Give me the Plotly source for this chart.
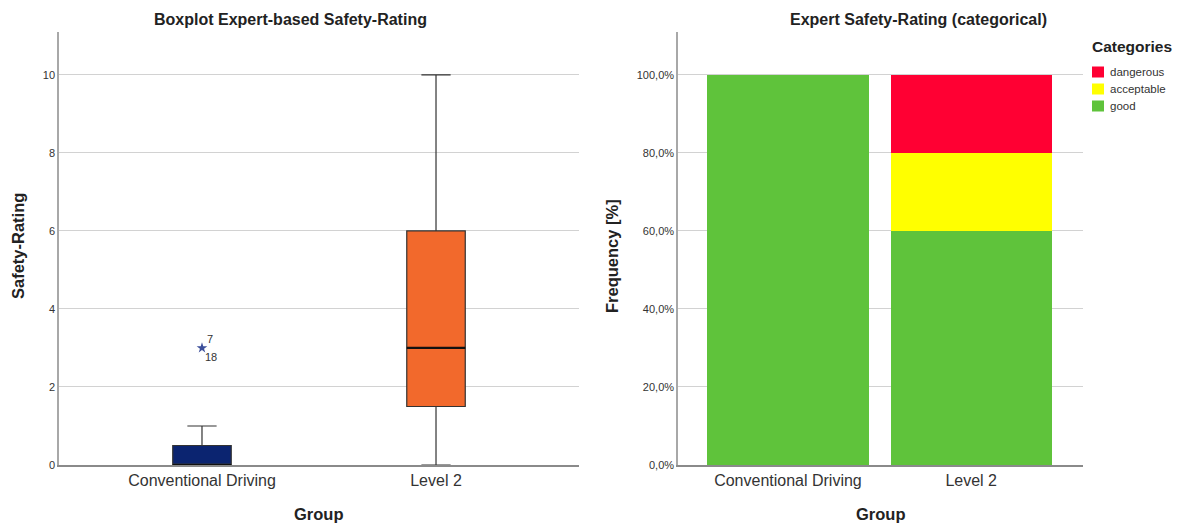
import plotly.graph_objects as go

# Boxplot summary statistics per group
groups = ["Conventional Driving", "Level 2"]
q1 = [0, 1.5]
median = [0, 3]
q3 = [0.5, 6]
lower_whisker = [0, 0]
upper_whisker = [1, 10]
box_colors = ["#0b2470", "#f2692c"]

# Extreme values (case ids shown next to the marker)
outlier_group = "Conventional Driving"
outlier_value = 3
outlier_ids = ["7", "18"]

# Categorical safety rating, percentage per group
categories = ["good", "acceptable", "dangerous"]
cat_pct = {
    "good": [100, 60],
    "acceptable": [0, 20],
    "dangerous": [0, 20],
}
cat_colors = {"good": "#5fc33b", "acceptable": "#ffff00", "dangerous": "#ff0033"}

pct_ticks = [0, 20, 40, 60, 80, 100]
pct_labels = ["0,0%", "20,0%", "40,0%", "60,0%", "80,0%", "100,0%"]
rating_ticks = [0, 2, 4, 6, 8, 10]

FONT = "Liberation Sans, Arial, sans-serif"
W, H = 1182, 524
BOX_W = 0.25


def px(x):
    return x / W


def py(y):
    return 1 - y / H


fig = go.Figure()

for i, g in enumerate(groups):
    fig.add_trace(go.Box(
        x=[g], q1=[q1[i]], median=[median[i]], q3=[q3[i]],
        lowerfence=[lower_whisker[i]], upperfence=[upper_whisker[i]],
        fillcolor=box_colors[i], line=dict(color="#333333", width=1.2),
        width=BOX_W, whiskerwidth=0.5, boxpoints=False,
        showlegend=False, xaxis="x", yaxis="y", hoverinfo="skip",
    ))
    # heavier median line drawn on top of the box
    fig.add_shape(type="line", xref="x", yref="y",
                  x0=i - BOX_W / 2, x1=i + BOX_W / 2, y0=median[i], y1=median[i],
                  line=dict(color="#111111", width=2.2))

fig.add_trace(go.Scatter(
    x=[outlier_group], y=[outlier_value], mode="markers",
    marker=dict(symbol="star", size=8, color="#3d4f9a"),
    showlegend=False, xaxis="x", yaxis="y", hoverinfo="skip",
))

for c in categories:
    fig.add_trace(go.Bar(
        x=groups, y=cat_pct[c], name=c,
        marker=dict(color=cat_colors[c], line=dict(width=0)),
        width=0.88, xaxis="x2", yaxis="y2", showlegend=False,
    ))

axis_common = dict(showgrid=False, showline=True, linecolor="#8a8a8a", linewidth=1.5,
                   tickfont=dict(size=16, color="#333333"), ticks="", type="category",
                   ticklabelstandoff=0)
yaxis_common = dict(showgrid=True, gridcolor="#d2d2d2", gridwidth=1.4, zeroline=False,
                    showline=True, linecolor="#a8a8a8", linewidth=1.5,
                    tickfont=dict(size=11, color="#333333"), ticks="",
                    domain=[py(465), py(32)])

fig.update_layout(
    width=W, height=H,
    margin=dict(l=0, r=0, t=0, b=0, autoexpand=False),
    paper_bgcolor="white", plot_bgcolor="white",
    font=dict(family=FONT, color="#222222"),
    barmode="stack", bargap=0, showlegend=False,
    xaxis=dict(domain=[px(59), px(579)], range=[-0.611, 1.611], anchor="y", **axis_common),
    yaxis=dict(range=[0, 11.1], tickvals=rating_ticks, anchor="x", **yaxis_common),
    xaxis2=dict(domain=[px(678), px(1083)], range=[-0.6, 1.61], anchor="y2", **axis_common),
    yaxis2=dict(range=[0, 111], tickvals=pct_ticks, ticktext=pct_labels, anchor="x2",
                **yaxis_common),
)

annotations = [
    dict(text="<b>Boxplot Expert-based Safety-Rating</b>", x=px(290), y=py(20),
         font=dict(size=16)),
    dict(text="<b>Expert Safety-Rating (categorical)</b>", x=px(918), y=py(20),
         font=dict(size=16)),
    dict(text="<b>Group</b>", x=px(319), y=py(514), font=dict(size=16.5)),
    dict(text="<b>Group</b>", x=px(881), y=py(514), font=dict(size=16.5)),
    dict(text="<b>Safety-Rating</b>", x=px(18), y=py(246), textangle=-90,
         font=dict(size=16.5)),
    dict(text="<b>Frequency [%]</b>", x=px(612), y=py(256), textangle=-90,
         font=dict(size=16.5)),
]
for a in annotations:
    a.update(xref="paper", yref="paper", showarrow=False, xanchor="center", yanchor="middle")

# legend: title plus one swatch per category, top entry = top of the stack
annotations.append(dict(text="<b>Categories</b>", x=px(1090), y=py(47), xref="paper",
                        yref="paper", showarrow=False, xanchor="left", yanchor="middle",
                        font=dict(size=15.5, color="#222222")))
for k, c in enumerate(reversed(categories)):
    yc = 72 + k * 17
    fig.add_shape(type="rect", xref="paper", yref="paper",
                  x0=px(1092), x1=px(1104), y0=py(yc + 5.5), y1=py(yc - 5.5),
                  fillcolor=cat_colors[c], line=dict(width=0))
    annotations.append(dict(text=c, x=px(1108), y=py(yc), xref="paper", yref="paper",
                            showarrow=False, xanchor="left", yanchor="middle",
                            font=dict(size=11.5, color="#333333")))

fig.update_layout(annotations=annotations)

# case ids beside the extreme value
fig.add_annotation(x=outlier_group, y=outlier_value, xref="x", yref="y", text=outlier_ids[0],
                   showarrow=False, xshift=8, yshift=9, font=dict(size=11, color="#333333"))
fig.add_annotation(x=outlier_group, y=outlier_value, xref="x", yref="y", text=outlier_ids[1],
                   showarrow=False, xshift=9, yshift=-9, font=dict(size=11, color="#333333"))

fig.write_html("out.html")
